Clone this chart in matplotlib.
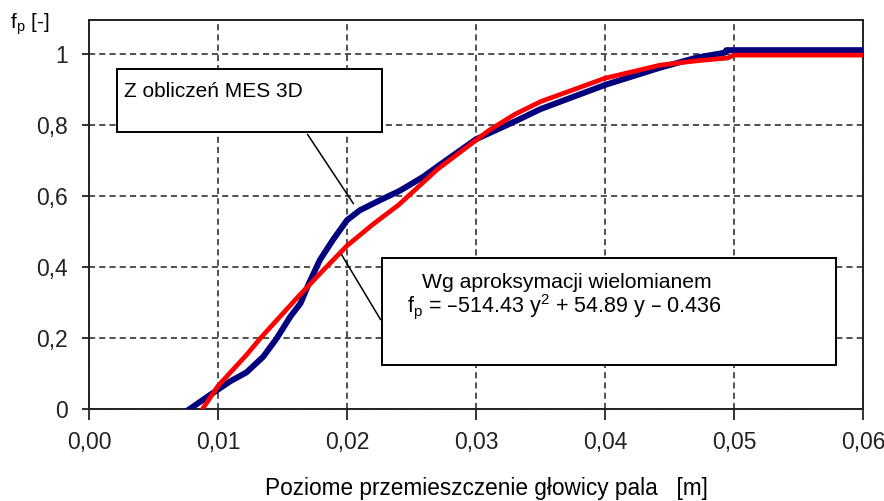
import matplotlib.pyplot as plt

plt.rcParams['font.family'] = ['Liberation Sans', 'DejaVu Sans']

# MES 3D results (blue)
mes_x = [0.0078, 0.0096, 0.0109, 0.0122, 0.0135, 0.01455, 0.0156, 0.0164, 0.0170,
         0.0179, 0.0189, 0.0200, 0.0210, 0.0226, 0.0241, 0.0259, 0.0270, 0.0300,
         0.0315, 0.0330, 0.0350, 0.0400, 0.0443, 0.0471, 0.0493, 0.0494, 0.0600]
mes_y = [0.0, 0.045, 0.077, 0.103, 0.147, 0.199, 0.260, 0.298, 0.350,
         0.420, 0.476, 0.532, 0.560, 0.589, 0.615, 0.654, 0.683, 0.760,
         0.785, 0.810, 0.845, 0.913, 0.962, 0.990, 1.004, 1.011, 1.011]

# polynomial approximation (red)
apr_x = [0.0088, 0.0100, 0.0122, 0.0133, 0.0148, 0.0162, 0.0180, 0.0200, 0.0220,
         0.0240, 0.0270, 0.0290, 0.0310, 0.0330, 0.0350, 0.0400, 0.0443, 0.0471,
         0.0495, 0.0500, 0.0600]
apr_y = [0.0, 0.065, 0.152, 0.200, 0.260, 0.316, 0.385, 0.460, 0.520,
         0.575, 0.675, 0.730, 0.785, 0.830, 0.866, 0.932, 0.969, 0.981,
         0.989, 0.997, 0.997]

xticks = [0.0, 0.01, 0.02, 0.03, 0.04, 0.05, 0.06]
xlabels = ['0,00', '0,01', '0,02', '0,03', '0,04', '0,05', '0,06']
yticks = [0, 0.2, 0.4, 0.6, 0.8, 1.0]
ylabels = ['0', '0,2', '0,4', '0,6', '0,8', '1']

fig = plt.figure(figsize=(8.84, 5.01), dpi=100)
ax = fig.add_axes([89/884, 1-409/501, (863-89)/884, (409-20)/501])

ax.plot(mes_x, mes_y, color='#00007f', lw=4.3, zorder=3)
ax.plot(apr_x, apr_y, color='#ff0000', lw=3.4, zorder=4)

ax.set_xlim(0, 0.06)
ax.set_ylim(0, 1.096)
ax.set_xticks(xticks)
ax.set_xticklabels(xlabels, fontsize=16.5)
ax.set_yticks(yticks)
ax.set_yticklabels(ylabels, fontsize=16.5)
ax.tick_params(axis='x', direction='out', length=8, width=1.3, pad=8, colors='#222222')
ax.tick_params(axis='y', direction='out', length=5, width=1.3, pad=10, colors='#222222')
ax.grid(True, color='#222222', lw=1.1, linestyle=(0, (4, 2.7)), zorder=1)
for s in ax.spines.values():
    s.set_linewidth(1.4)
    s.set_color('#222222')

# leader lines and text boxes
ax.annotate('', xy=((355-89)/12900, (409-206)/355), xytext=((306-89)/12900, (409-132)/355),
            arrowprops=dict(arrowstyle='-', color='black', lw=1.1), zorder=5)
ax.annotate('', xy=((340-89)/12900, (409-252)/355), xytext=((382-89)/12900, (409-322)/355),
            arrowprops=dict(arrowstyle='-', color='black', lw=1.1), zorder=5)

r1 = plt.Rectangle(((117-89)/12900, (409-132)/355), (382-117)/12900, (132-69)/355,
                   fc='white', ec='black', lw=1.4, zorder=6)
ax.add_patch(r1)
ax.text((124-89)/12900, (409-91)/355, 'Z obliczeń MES 3D', fontsize=15, va='center',
        ha='left', zorder=7)

r2 = plt.Rectangle(((382-89)/12900, (409-365)/355), (836-382)/12900, (365-258)/355,
                   fc='white', ec='black', lw=1.4, zorder=6)
ax.add_patch(r2)
ax.text((567-89)/12900, (409-282)/355, 'Wg aproksymacji wielomianem', fontsize=15.2,
        va='center', ha='center', zorder=7)
ax.text((407-89)/12900, (409-306)/355,
        r'f$_\mathregular{p}$ = –514.43 y$^\mathregular{2}$ + 54.89 y – 0.436',
        fontsize=15.5, va='center', ha='left', zorder=7)

fig.text(10/884, 1-24/501, r'f$_\mathregular{p}$ [-]', fontsize=15, va='center', ha='left')
fig.text(486/884, 1-489/501, 'Poziome przemieszczenie głowicy pala   [m]', fontsize=16.3,
         va='center', ha='center')

fig.savefig('out.png', dpi=100)
